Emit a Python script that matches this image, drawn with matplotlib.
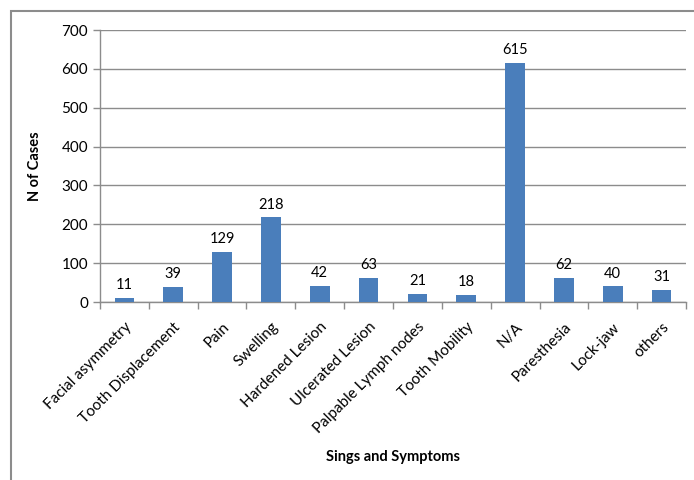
import matplotlib
matplotlib.use("Agg")
import matplotlib.pyplot as plt
from matplotlib.patches import Rectangle
import numpy as np

categories = ["Facial asymmetry", "Tooth Displacement", "Pain", "Swelling",
              "Hardened Lesion", "Ulcerated Lesion", "Palpable Lymph nodes",
              "Tooth Mobility", "N/A", "Paresthesia", "Lock-jaw", "others"]
cases = [11, 39, 129, 218, 42, 63, 21, 18, 615, 62, 40, 31]
y_ticks = [0, 100, 200, 300, 400, 500, 600, 700]

plt.rcParams["font.family"] = ["Lato", "DejaVu Sans"]

fig = plt.figure(figsize=(6.94, 4.8), dpi=100)
ax = fig.add_axes([100 / 694, 1 - 302 / 480, 586 / 694, 272 / 480])

# outer chart frame (cropped at right and bottom, like the source)
fig.patches.append(Rectangle((11 / 694, -0.1), 1.2, 1 - 11 / 480 + 0.1,
                             transform=fig.transFigure, fill=False,
                             edgecolor="#8c8c8c", linewidth=1.5))

x = np.arange(len(categories))
bars = ax.bar(x, cases, width=0.4, color="#4a7ebb", zorder=3)
for b, v in zip(bars, cases):
    ax.annotate(str(v), (b.get_x() + b.get_width() / 2, v), xytext=(0, 4),
                textcoords="offset points", ha="center", va="bottom", fontsize=10.5)

ax.set_xlim(-0.5, len(categories) - 0.5)
ax.set_ylim(0, 700)
ax.set_yticks(y_ticks)
ax.yaxis.grid(True, color="#8c8c8c", linewidth=1, zorder=0)
ax.set_axisbelow(True)

ax.set_xticks(x)
ax.set_xticklabels(categories, rotation=45, ha="right", rotation_mode="anchor", fontsize=11)
ax.tick_params(axis="x", length=0, pad=13)
ax.set_xticks(np.arange(len(categories) + 1) - 0.5, minor=True)
ax.tick_params(axis="x", which="minor", length=5, color="#8c8c8c", width=1)
ax.tick_params(axis="y", length=5, color="#8c8c8c", width=1, labelsize=11)

for side in ["top", "right"]:
    ax.spines[side].set_visible(False)
for side in ["left", "bottom"]:
    ax.spines[side].set_color("#8c8c8c")
    ax.spines[side].set_linewidth(1)

ax.set_ylabel("N of Cases", fontsize=10.5, fontweight="bold", labelpad=14)
fig.text(393 / 694, 1 - 457 / 480, "Sings and Symptoms", fontsize=10.5,
         fontweight="bold", ha="center", va="center")

fig.savefig("out.png", dpi=100)
